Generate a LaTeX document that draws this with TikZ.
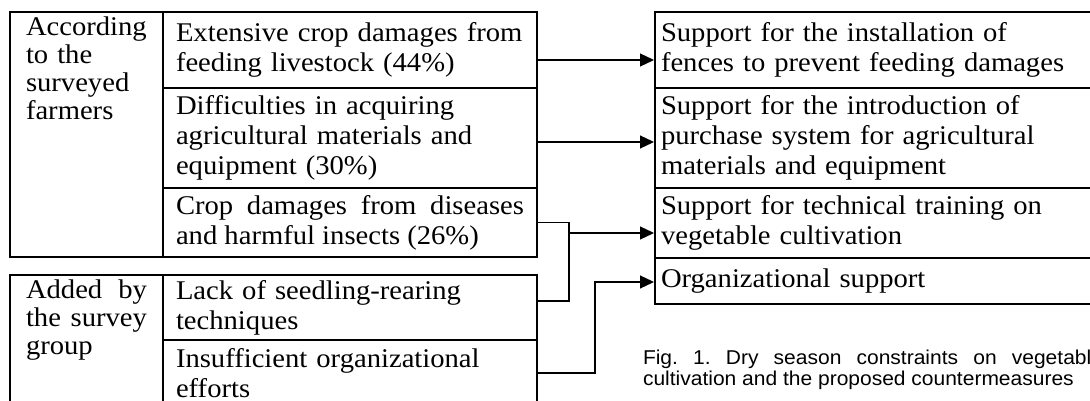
\documentclass[tikz,border=0pt]{standalone}
\usepackage{fontspec}
\setmainfont{Liberation Serif}
\newfontfamily\cellfont[FakeStretch=1.06]{Liberation Serif}
\newfontfamily\capfont[FakeStretch=1.05]{Liberation Sans}
\newcommand{\nohyph}{\hyphenpenalty=10000\relax}
\frenchspacing
\usetikzlibrary{arrows.meta}

\tikzset{every picture/.style={line width=2pt}}
\tikzset{
  cellbox/.style={draw, rectangle, anchor=north west, inner xsep=13pt, inner ysep=0pt,
    text width=348pt, minimum width=374pt, align=left,
    font=\cellfont\fontsize{27}{30}\selectfont},
  measurebox/.style={cellbox, inner xsep=6pt, text width=440pt, minimum width=452pt},
  groupframe/.style={draw, rectangle, anchor=north west, inner sep=0pt, minimum width=153pt},
  grouptext/.style={anchor=north west, inner xsep=16pt, inner ysep=5pt, text width=121pt,
    font=\cellfont\fontsize{27}{28}\selectfont},
  link/.style={line width=1.2pt},
  linkarrow/.style={link, -{Triangle[length=14pt,width=13pt]}}
}

\begin{document}
\begin{tikzpicture}[x=1pt,y=1pt,yscale=-1,xscale=1]
        \useasboundingbox (0,0) rectangle (1090,401);
        %Shape: Rectangle (farmers group)
        \node [groupframe, minimum height=245pt] (g1) at (9,11) {};
        % Text Node
        \node [grouptext, align=left] (g1t) at (g1.north west) {According\\to the\\surveyed\\farmers};
        %Shape: Rectangle (survey group)
        \node [groupframe, minimum height=140pt] (g2) at (9,274) {};
        % Text Node
        \node [grouptext, align=justify] (g2t) at (g2.north west) {Added by the survey group};
        % Constraints
        \node [cellbox, minimum height=76pt] (c1) at (162,11) {Extensive crop damages from\\feeding livestock (44\%)};
        \node [cellbox, minimum height=100pt] (c2) at (162,87) {Difficulties in acquiring\\agricultural materials and\\equipment (30\%)};
        \node [cellbox, minimum height=69pt, align=justify] (c3) at (162,187) {Crop damages from diseases and harmful insects (26\%)};
        \node [cellbox, minimum height=65pt] (d1) at (162,274) {Lack of seedling-rearing\\techniques};
        \node [cellbox, minimum height=66pt] (d2) at (162,339) {Insufficient organizational\\efforts};
        % Countermeasures
        \node [measurebox, minimum height=76pt] (s1) at (654,11) {Support for the installation of\\fences to prevent feeding damages};
        \node [measurebox, minimum height=100pt] (s2) at (654,87) {Support for the introduction of\\purchase system for agricultural\\materials and equipment};
        \node [measurebox, minimum height=70pt] (s3) at (654,187) {Support for technical training on\\vegetable cultivation};
        \node [measurebox, minimum height=46pt] (s4) at (654,257) {Organizational support};
        % Connectors
        \coordinate (j1) at (569,233);
        \coordinate (j2) at (595,282);
        \draw [linkarrow] ([yshift=10pt]c1.east) -- ([yshift=10pt]s1.west);
        \draw [linkarrow] ([yshift=4pt]c2.east) -- ([yshift=4pt]s2.west);
        \draw [link] (c3.east) -| (j1) |- ([yshift=-6.5pt]d1.east);
        \draw [linkarrow] (j1) -- (j1 -| s3.west);
        \draw [linkarrow] (d2.east) -| (j2) -- (j2 -| s4.west);
        % Caption
        \node [anchor=north west, inner sep=0pt, text width=460pt, align=justify,
          font=\capfont\fontsize{20}{21.5}\selectfont\nohyph] (cap) at (642,349)
          {Fig. 1. Dry season constraints on vegetable cultivation and the proposed countermeasures};
\end{tikzpicture}
\end{document}
